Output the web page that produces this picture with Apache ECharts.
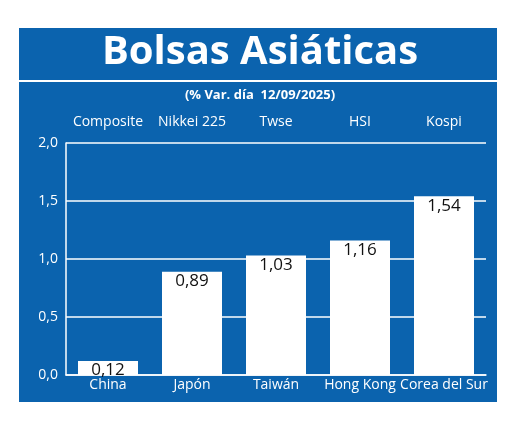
<!DOCTYPE html>
<html><head><meta charset="utf-8">
<script src="https://cdn.jsdelivr.net/npm/echarts@6/dist/echarts.min.js"></script>
<style>
html,body{margin:0;padding:0;background:#fff}
#panel{position:absolute;left:19px;top:28px;width:478px;height:374px;background:#0b63ae}
#line{position:absolute;left:19px;top:80px;width:478px;height:2px;background:#fff}
#chart{position:absolute;left:0;top:0;width:520px;height:423px}
</style></head>
<body>
<div id="panel"></div><div id="line"></div>
<div id="chart"></div>
<script>
var countries = ['China', 'Japón', 'Taiwán', 'Hong Kong', 'Corea del Sur'];
var indices = ['Composite', 'Nikkei 225', 'Twse', 'HSI', 'Kospi'];
var values = [0.12, 0.89, 1.03, 1.16, 1.54];

var chart = echarts.init(document.getElementById('chart'));
var font = 'Open Sans';
chart.setOption({
    animation: false,
    title: [
        {text: 'Bolsas Asiáticas', left: 'center', top: 28,
         textStyle: {color: '#fff', fontSize: 40, fontWeight: 'bold', fontFamily: font}},
        {text: '(% Var. día  12/09/2025)', left: 'center', top: 84,
         textStyle: {color: '#fff', fontSize: 13, fontWeight: 'bold', fontFamily: font}}
    ],
    grid: {left: 66, right: 34, top: 143, bottom: 48},
    xAxis: [
        {type: 'category', data: countries, position: 'bottom',
         axisLine: {show: true, lineStyle: {color: '#fff', width: 1.5}},
         axisTick: {show: false},
         axisLabel: {color: '#fff', fontSize: 14, fontFamily: font, margin: 3, interval: 0}},
        {type: 'category', data: indices, position: 'top',
         axisLine: {show: false}, axisTick: {show: false},
         axisLabel: {color: '#fff', fontSize: 14, fontFamily: font, margin: 14, interval: 0}}
    ],
    yAxis: {
        type: 'value', min: 0, max: 2, interval: 0.5,
        axisLine: {show: true, lineStyle: {color: '#fff', width: 1.5}},
        axisTick: {show: false},
        splitLine: {lineStyle: {color: '#fff', width: 1.5}},
        axisLabel: {color: '#fff', fontSize: 14, fontFamily: font, margin: 8,
            formatter: function (v) { return v.toFixed(1).replace('.', ','); }}
    },
    series: [{
        type: 'bar', data: values, barWidth: 60,
        itemStyle: {color: '#fff'},
        label: {show: true, position: 'insideTop', color: '#111', fontSize: 17,
            fontFamily: font, offset: [0, -4],
            formatter: function (p) { return p.value.toFixed(2).replace('.', ','); }}
    }]
});
</script>
</body></html>
